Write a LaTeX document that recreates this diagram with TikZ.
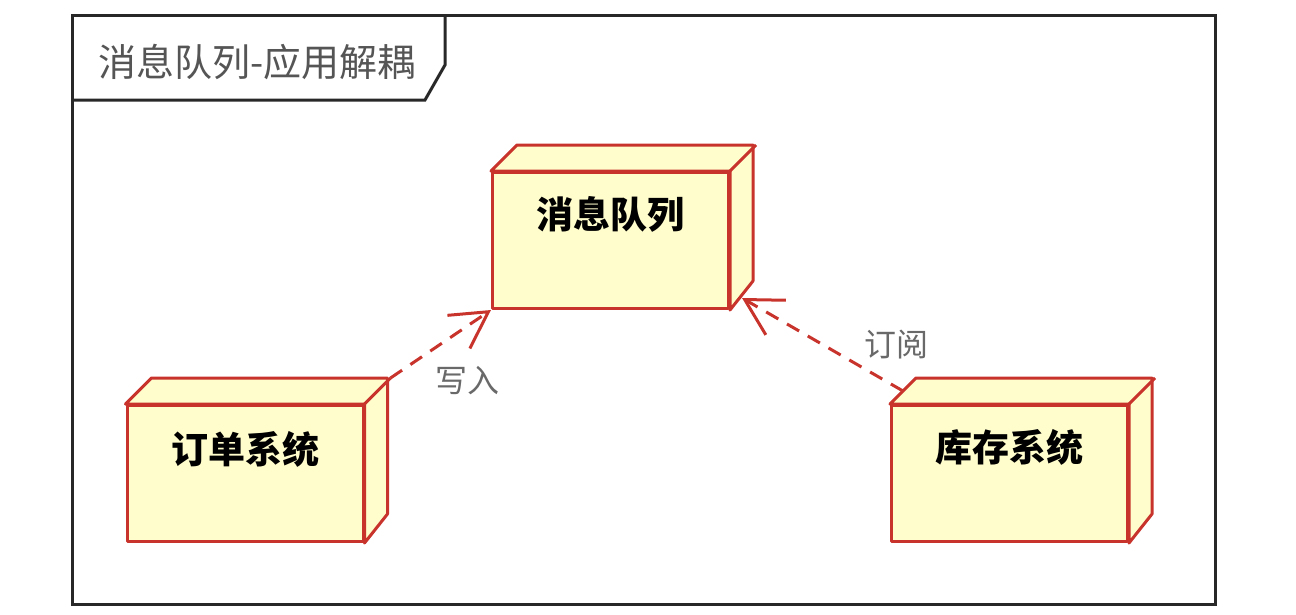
\documentclass[tikz,border=0pt]{standalone}
\usepackage{fontspec}
\newfontfamily\cjk{Noto Sans CJK SC}
\usetikzlibrary{arrows.meta}
\definecolor{nodered}{RGB}{200,52,44}
\definecolor{nodefill}{RGB}{255,253,204}
\definecolor{framegray}{RGB}{40,40,40}
\definecolor{titlegray}{RGB}{85,85,85}
\definecolor{labelgray}{RGB}{105,105,105}
\tikzset{
  frameline/.style={draw=framegray, line width=3pt, line join=miter},
  frontface/.style={draw=nodered, fill=nodefill, line width=3pt,
    minimum width=236pt, minimum height=136pt, inner sep=0pt, line join=round},
  sidefaces/.style={draw=nodered, fill=nodefill, line width=3pt, line join=round},
  boxtext/.style={font=\cjk\bfseries\fontsize{37}{37}\selectfont, text=black},
  titletext/.style={font=\cjk\fontsize{38}{38}\selectfont, text=titlegray},
  deplabel/.style={font=\cjk\fontsize{32}{32}\selectfont, text=labelgray},
  dep/.style={draw=nodered, line width=3pt, dash pattern=on 14pt off 10pt,
    -{Straight Barb[length=36pt,width=40pt]}},
}
% top and right faces of a UML node box, drawn around its front face
\newcommand\nodefaces[1]{%
  \draw[sidefaces] (#1.north west) -- ++(26,-26) -- ++(236,0) -- ++(0,136)
    -- (#1.south east) -- (#1.north east) -- cycle;
  \draw[sidefaces] (#1.north east) -- ++(26,-26);
}
\begin{document}
\begin{tikzpicture}[x=1pt,y=-1pt]
  \useasboundingbox (0,0) rectangle (1296,614);

  % diagram frame with its name tab
  \draw[frameline] (72,15) rectangle (1215,604);
  \draw[frameline] (72,100) -- (425,100) -- (445,65) -- (445,15);
  \node[titletext] (title) at (257,62) {消息队列-应用解耦};

  % deployment nodes
  \node[frontface] (mq)  at (610.5,240.5) {};
  \nodefaces{mq}
  \node[boxtext] (mqtext) at ([yshift=-43pt]mq.north) {消息队列};

  \node[frontface] (ord) at (245,473.5) {};
  \nodefaces{ord}
  \node[boxtext] (ordtext) at ([yshift=-45pt]ord.north) {订单系统};

  \node[frontface] (stk) at (1009.5,473.5) {};
  \nodefaces{stk}
  \node[boxtext] (stktext) at ([yshift=-43pt]stk.north) {库存系统};

  % connector ends on the box edges
  \coordinate (ordcorner) at ([shift={(26,-26)}]ord.north east);
  \coordinate (mqside)    at ([shift={(12,-12)}]mq.south east);
  \coordinate (stkside)   at ([shift={(13,-13)}]stk.north west);

  % dependencies
  \draw[dep] (ordcorner) -- (mq.south west);
  \draw[dep] (stkside) -- (mqside);
  \node[deplabel] (lwrite) at (467,381) {写入};
  \node[deplabel] (lsub)   at (896,345) {订阅};
\end{tikzpicture}
\end{document}
